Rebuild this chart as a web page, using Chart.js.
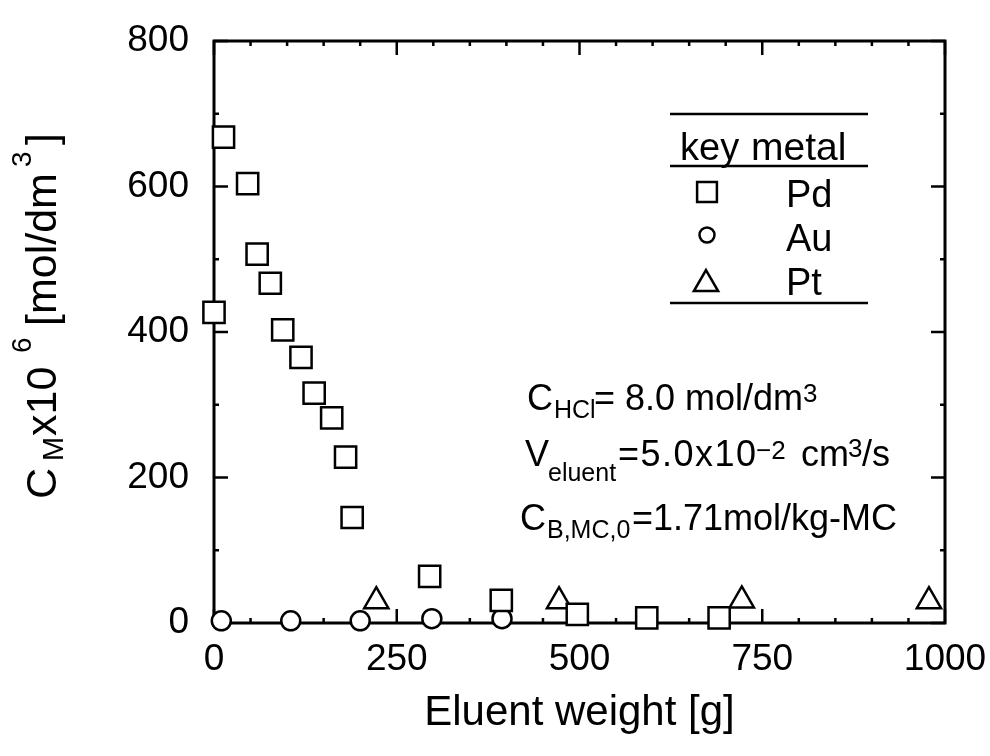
<!DOCTYPE html>
<html>
<head>
<meta charset="utf-8">
<script src="https://cdn.jsdelivr.net/npm/chart.js@4.4.1/dist/chart.umd.min.js"></script>
<style>
  body { margin: 0; background: #fff; }
  #chartScatter { display: block; }
</style>
</head>
<body>
<canvas id="chartScatter" width="990" height="756"></canvas>
<script>
// dados (peso de eluente [g] x C_M x10^6 [mol/dm3])
const pdX = [0, 13, 46, 59, 77, 94, 119, 137, 161, 180, 189, 295, 393, 497, 592, 691]
const pdY = [427, 668, 604, 507, 467, 403, 365, 316, 282, 228, 145, 64, 31, 12, 7, 7]
const auX = [10, 105, 200, 298, 394]
const auY = [3, 3, 3, 6, 6]
const ptX = [222, 472, 722, 978]
const ptY = [30, 30, 31, 30]

const xTicks = [0, 250, 500, 750, 1000]
const yTicks = [0, 200, 400, 600, 800]
const xMinor = 50
const yMinor = 100

const FONT = "'Liberation Sans', Arial, sans-serif"

function pares(xs, ys) {
    return xs.map(function (v, i) { return { x: v, y: ys[i] } })
}

function f(size) { return size + 'px ' + FONT }

// moldura e ticks para dentro
const moldura = {
    id: 'moldura',
    beforeDatasetsDraw(chart) {
        const { ctx, chartArea: a, scales } = chart
        const x = scales.x, y = scales.y
        ctx.save()
        ctx.strokeStyle = '#000'
        ctx.lineWidth = 3
        ctx.strokeRect(a.left, a.top, a.right - a.left, a.bottom - a.top)
        ctx.lineWidth = 2.5
        ctx.beginPath()
        for (let v = 0; v <= 1000; v += xMinor) {
            const px = x.getPixelForValue(v)
            const len = xTicks.includes(v) ? 14 : 5
            ctx.moveTo(px, a.bottom); ctx.lineTo(px, a.bottom - len)
            ctx.moveTo(px, a.top); ctx.lineTo(px, a.top + len)
        }
        for (let v = 0; v <= 800; v += yMinor) {
            const py = y.getPixelForValue(v)
            const len = yTicks.includes(v) ? 14 : 5
            ctx.moveTo(a.left, py); ctx.lineTo(a.left + len, py)
            ctx.moveTo(a.right, py); ctx.lineTo(a.right - len, py)
        }
        ctx.stroke()
        ctx.restore()
    }
}

function runs(ctx, lista) {
    lista.forEach(function (r) {
        ctx.font = f(r[3])
        ctx.letterSpacing = (r[4] || 0) + 'px'
        ctx.fillText(r[0], r[1], r[2])
    })
    ctx.letterSpacing = '0px'
}

// textos: titulo do eixo y, tabela de legenda e condicoes
const textos = {
    id: 'textos',
    afterDraw(chart) {
        const ctx = chart.ctx
        ctx.save()
        ctx.fillStyle = '#000'
        ctx.textAlign = 'left'
        ctx.textBaseline = 'alphabetic'

        // titulo y (rotacionado)
        ctx.save()
        ctx.translate(56, 497)
        ctx.rotate(-Math.PI / 2)
        runs(ctx, [
            ['C', -2, 0, 43],
            ['M', 36, 7, 29],
            ['x10', 61, 0, 43],
            ['6', 144, -25, 28],
            ['[mol/dm', 171, 0, 43],
            ['3', 330, -25, 28],
            [']', 352, 0, 43]
        ])
        ctx.restore()

        // tabela da legenda
        ctx.strokeStyle = '#000'
        ctx.lineWidth = 2.5
        ctx.beginPath()
        ctx.moveTo(670, 114); ctx.lineTo(868, 114)
        ctx.moveTo(670, 166); ctx.lineTo(868, 166)
        ctx.moveTo(670, 303); ctx.lineTo(868, 303)
        ctx.stroke()
        runs(ctx, [
            ['key', 680, 160, 38],
            ['metal', 751, 160, 39],
            ['Pd', 786, 207, 38],
            ['Au', 786, 251, 38],
            ['Pt', 786, 295, 38]
        ])
        const h = Chart.helpers
        const simb = { borderWidth: 2.5, rotation: 0 }
        ctx.fillStyle = '#fff'
        h.drawPoint(ctx, Object.assign({ pointStyle: 'rect', radius: 14 }, simb), 707, 192)
        h.drawPoint(ctx, Object.assign({ pointStyle: 'circle', radius: 7.5 }, simb), 707, 235)
        h.drawPoint(ctx, Object.assign({ pointStyle: 'triangle', radius: 14 }, simb), 706, 284)
        ctx.fillStyle = '#000'

        // condicoes experimentais
        runs(ctx, [
            ['C', 527, 410, 36],
            ['HCl', 554, 418, 25],
            ['= 8.0 mol/dm', 594, 410, 36],
            ['3', 803, 402, 26],
            ['V', 525, 466, 36],
            ['eluent', 548, 481, 25],
            ['=5.0x10', 618, 466, 36, 1.5],
            ['\u22122', 756, 459, 26],
            ['cm', 801, 466, 36],
            ['3', 848, 457, 26],
            ['/s', 862, 466, 36],
            ['C', 520, 530, 36],
            ['B,MC,0', 547, 538, 25],
            ['=1.71mol/kg-MC', 632, 530, 36]
        ])
        ctx.restore()
    }
}

const ctx = document.getElementById('chartScatter')

const estiloPonto = {
    showLine: false,
    borderColor: '#000',
    backgroundColor: '#fff',
    pointBorderWidth: 2.5,
    pointHoverRadius: 0,
    clip: false
}

const dadosDispersao = {
    datasets: [
        Object.assign({ label: 'Pd', data: pares(pdX, pdY), pointStyle: 'rect', pointRadius: 15 }, estiloPonto),
        Object.assign({ label: 'Au', data: pares(auX, auY), pointStyle: 'circle', pointRadius: 9.5 }, estiloPonto),
        Object.assign({ label: 'Pt', data: pares(ptX, ptY), pointStyle: 'triangle', pointRadius: 14 }, estiloPonto)
    ]
}

function semPadding(scale) {
    scale.paddingLeft = 0
    scale.paddingRight = 0
    scale.paddingTop = 0
    scale.paddingBottom = 0
}

var myScatterChart = new Chart(ctx, {
    type: 'scatter',
    data: dadosDispersao,
    options: {
        responsive: false,
        animation: false,
        events: [],
        layout: { padding: { top: 41, right: 45, left: 0, bottom: 0 } },
        scales: {
            x: {
                type: 'linear',
                min: 0,
                max: 1000,
                afterBuildTicks: function (scale) { scale.ticks = xTicks.map(function (v) { return { value: v } }) },
                afterFit: function (scale) { scale.height = 133; semPadding(scale) },
                grid: { display: false, drawTicks: false },
                border: { display: false },
                ticks: {
                    color: '#000', font: { family: FONT, size: 37 }, padding: 15, maxRotation: 0,
                    callback: function (v) { return String(v) }
                },
                title: {
                    display: true,
                    text: 'Eluent weight [g]',
                    color: '#000',
                    font: { family: FONT, size: 42 },
                    padding: { top: 0, bottom: 17 }
                }
            },
            y: {
                type: 'linear',
                min: 0,
                max: 800,
                afterBuildTicks: function (scale) { scale.ticks = yTicks.map(function (v) { return { value: v } }) },
                afterFit: function (scale) { scale.width = 214; semPadding(scale) },
                grid: { display: false, drawTicks: false },
                border: { display: false },
                ticks: {
                    color: '#000', font: { family: FONT, size: 37 }, padding: 25,
                    callback: function (v) { return String(v) }
                }
            }
        },
        plugins: {
            legend: { display: false },
            tooltip: { enabled: false }
        }
    },
    plugins: [moldura, textos]
});
</script>
</body>
</html>
